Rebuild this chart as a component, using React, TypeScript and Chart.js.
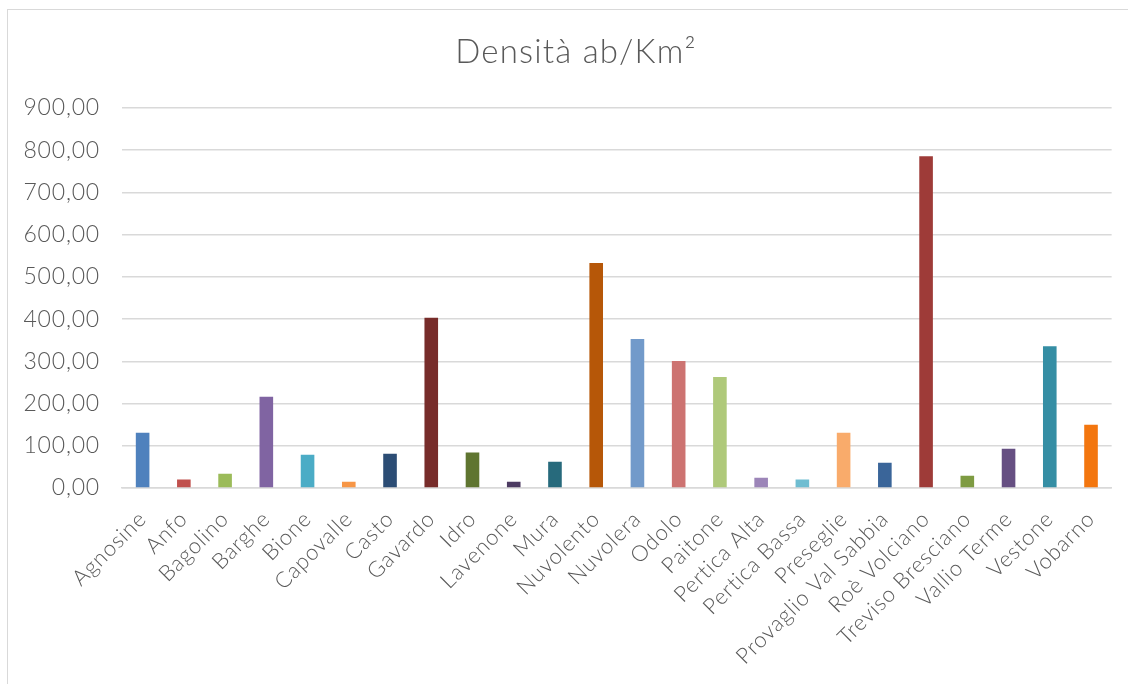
import React, { useEffect, useRef } from "react";
import { Chart, registerables } from "chart.js";

Chart.register(...registerables);

const categories = [
  "Agnosine", "Anfo", "Bagolino", "Barghe", "Bione", "Capovalle", "Casto", "Gavardo",
  "Idro", "Lavenone", "Mura", "Nuvolento", "Nuvolera", "Odolo", "Paitone", "Pertica Alta",
  "Pertica Bassa", "Preseglie", "Provaglio Val Sabbia", "Roè Volciano", "Treviso Bresciano",
  "Vallio Terme", "Vestone", "Vobarno",
];

const densita = [
  131, 20, 34, 216, 79, 15, 81, 403,
  84, 15, 62, 533, 353, 301, 263, 24,
  20, 131, 60, 786, 29, 93, 336, 150,
];

const barColors = [
  "#4F81BD", "#C0504D", "#9BBB59", "#8064A2", "#4BACC6", "#F79646", "#2C4D75", "#772C2A",
  "#5F7530", "#4D3B62", "#276A7C", "#B65708", "#729ACA", "#CD7371", "#AFC97A", "#9C85B8",
  "#6FBDD1", "#F9AB6B", "#3A6599", "#9E3B38", "#7E9B42", "#664F82", "#358EA4", "#F3760F",
];

const titleText = "Densità ab/Km²";
const yMax = 900;
const yStep = 100;

const FONT = "Lato";

const spacingPlugin = {
  id: "letterSpacing",
  beforeUpdate(chart: any) {
    chart.ctx.letterSpacing = "0.8px";
  },
  beforeDraw(chart: any) {
    chart.ctx.letterSpacing = "0.8px";
  },
};

const titlePlugin = {
  id: "customTitle",
  afterDraw(chart: any) {
    const ctx = chart.ctx;
    ctx.save();
    ctx.letterSpacing = "1.2px";
    ctx.font = `300 33px ${FONT}`;
    ctx.fillStyle = "#595959";
    ctx.textAlign = "center";
    ctx.textBaseline = "alphabetic";
    ctx.fillText(titleText, 576, 63);
    ctx.restore();
  },
};

export default function App() {
  const ref = useRef<HTMLCanvasElement | null>(null);

  useEffect(() => {
    if (!ref.current) return;
    const chart = new Chart(ref.current, {
      type: "bar",
      data: {
        labels: categories,
        datasets: [
          {
            label: titleText,
            data: densita,
            backgroundColor: barColors,
            borderWidth: 0,
            categoryPercentage: 1,
            barPercentage: 0.33,
          },
        ],
      },
      options: {
        animation: false,
        responsive: false,
        maintainAspectRatio: false,
        layout: { padding: { left: 0, right: 15, top: 108, bottom: 0 } },
        plugins: {
          legend: { display: false },
          title: { display: false },
          tooltip: { enabled: false },
        },
        scales: {
          x: {
            grid: { display: false, drawTicks: false },
            border: { display: true, color: "#d9d9d9", width: 1.5 },
            ticks: {
              minRotation: 45,
              maxRotation: 45,
              autoSkip: false,
              padding: 18,
              color: "#595959",
              font: { family: FONT, size: 22, weight: "300" as any },
            },
            afterFit(scale: any) {
              scale.height = 196;
            },
          },
          y: {
            min: 0,
            max: yMax,
            grid: { color: "#d9d9d9", lineWidth: 1.5, drawTicks: false },
            border: { display: false },
            ticks: {
              stepSize: yStep,
              padding: 22,
              color: "#595959",
              font: { family: FONT, size: 23, weight: "300" as any },
              callback: (v: any) =>
                Number(v).toLocaleString("it-IT", { minimumFractionDigits: 2, maximumFractionDigits: 2 }),
            },
            afterFit(scale: any) {
              scale.width = 122;
            },
          },
        },
      },
      plugins: [spacingPlugin, titlePlugin],
    });
    return () => chart.destroy();
  }, []);

  return (
    <div style={{ position: "fixed", left: 0, top: 0, width: 1128, height: 684, background: "#fff", overflow: "hidden" }}>
      <div
        style={{
          position: "absolute",
          left: 7,
          top: 9,
          width: 1200,
          height: 800,
          border: "1.5px solid #d9d9d9",
          boxSizing: "border-box",
        }}
      />
      <canvas ref={ref} width={1128} height={684} style={{ position: "absolute", left: 0, top: 0, width: 1128, height: 684 }} />
    </div>
  );
}
